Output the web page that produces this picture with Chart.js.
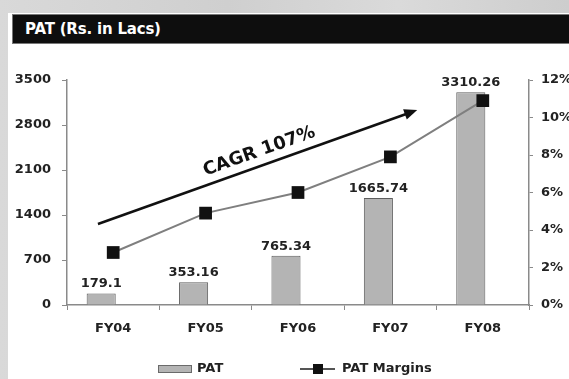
<!DOCTYPE html>
<html>
<head>
<meta charset="utf-8">
<script src="https://cdn.jsdelivr.net/npm/chart.js@4/dist/chart.umd.min.js"></script>
<style>
  html, body { margin: 0; padding: 0; }
  body {
    width: 569px; height: 379px; overflow: hidden; position: relative;
    background: linear-gradient(90deg, #d9d9d9 0%, #cfcfcf 40%, #dadada 70%, #cdcdcd 100%);
  }
  #panel {
    position: absolute; left: 8px; top: 13px; right: 0; bottom: 0;
    background: #ffffff;
  }
  #titlebar {
    position: absolute; left: 12px; top: 14px; right: 0; height: 28px;
    background: #0e0e0e; border-top: 1px solid #777; border-bottom: 1px solid #777;
    border-left: 1px solid #777;
    box-sizing: content-box;
  }
  #titlebar span {
    position: absolute; left: 12px; top: 5px;
    font: bold 15px "DejaVu Sans", sans-serif; color: #ffffff;
    letter-spacing: -0.2px;
  }
  #chart { position: absolute; left: 0; top: 0; }
</style>
</head>
<body>
<div id="panel"></div>
<div id="titlebar"><span>PAT (Rs. in Lacs)</span></div>
<canvas id="chart" width="569" height="379"></canvas>
<script>
// Financial years on the category axis
const years = ['FY04', 'FY05', 'FY06', 'FY07', 'FY08'];
// Profit after tax, Rs. in lacs
const patValues = [179.1, 353.16, 765.34, 1665.74, 3310.26];
// PAT margin, percent
const marginValues = [2.8, 4.9, 6.0, 7.9, 10.9];
// Axis tick steps
const patTicks = [0, 700, 1400, 2100, 2800, 3500];
const marginTicks = [0, 2, 4, 6, 8, 10, 12];
// Growth annotation
const cagrText = 'CAGR 107%';

const FONT = '"DejaVu Sans", sans-serif';
const TEXT = '#222222';
const AXIS = '#8a8a8a';

// Value labels above each PAT bar
const barLabels = {
  id: 'barLabels',
  afterDatasetsDraw(chart) {
    const ctx = chart.ctx;
    const meta = chart.getDatasetMeta(0);
    ctx.save();
    ctx.font = 'bold 13px ' + FONT;
    ctx.fillStyle = TEXT;
    ctx.textAlign = 'center';
    ctx.textBaseline = 'bottom';
    meta.data.forEach((bar, i) => {
      ctx.fillText(String(patValues[i]), bar.x, bar.y - 3);
    });
    ctx.restore();
  }
};

// Growth arrow with its caption, anchored in axis units
const cagrArrow = {
  id: 'cagrArrow',
  afterDraw(chart) {
    const { ctx, scales } = chart;
    const x0 = scales.x.getPixelForValue(-0.165), y0 = scales.y.getPixelForValue(1260);
    const x1 = scales.x.getPixelForValue(3.29), y1 = scales.y.getPixelForValue(3033);
    const ang = Math.atan2(y1 - y0, x1 - x0);
    ctx.save();
    ctx.strokeStyle = '#111';
    ctx.fillStyle = '#111';
    ctx.lineWidth = 2.5;
    ctx.beginPath();
    ctx.moveTo(x0, y0);
    ctx.lineTo(x1 - 8 * Math.cos(ang), y1 - 8 * Math.sin(ang));
    ctx.stroke();
    // head
    ctx.translate(x1, y1);
    ctx.rotate(ang);
    ctx.beginPath();
    ctx.moveTo(0, 0);
    ctx.lineTo(-13, -5.5);
    ctx.lineTo(-13, 5.5);
    ctx.closePath();
    ctx.fill();
    ctx.restore();

    // caption
    const t = 0.52;
    const cx = x0 + (x1 - x0) * t, cy = y0 + (y1 - y0) * t;
    ctx.save();
    ctx.translate(cx, cy);
    ctx.rotate(ang);
    ctx.font = 'bold 18px ' + FONT;
    ctx.fillStyle = '#111';
    ctx.textAlign = 'center';
    ctx.textBaseline = 'middle';
    ctx.fillText(cagrText, 0, -14);
    ctx.restore();
  }
};

// Legend row under the axis
const bottomLegend = {
  id: 'bottomLegend',
  afterDraw(chart) {
    const ctx = chart.ctx;
    const y = 369;
    ctx.save();
    ctx.font = 'bold 13px ' + FONT;
    ctx.textBaseline = 'middle';
    ctx.textAlign = 'left';
    // bar swatch
    ctx.fillStyle = '#b4b4b4';
    ctx.fillRect(158, y - 4, 34, 8);
    ctx.strokeStyle = '#6a6a6a';
    ctx.lineWidth = 1;
    ctx.strokeRect(158.5, y - 3.5, 33, 7);
    ctx.fillStyle = TEXT;
    ctx.fillText(chart.data.datasets[0].label, 197, y);
    // line swatch
    ctx.strokeStyle = '#555';
    ctx.lineWidth = 2;
    ctx.beginPath();
    ctx.moveTo(300, y);
    ctx.lineTo(335, y);
    ctx.stroke();
    ctx.fillStyle = '#111';
    ctx.fillRect(313, y - 5, 10, 10);
    ctx.fillStyle = TEXT;
    ctx.fillText(chart.data.datasets[2].label, 342, y);
    ctx.restore();
  }
};

new Chart(document.getElementById('chart'), {
  data: {
    labels: years,
    datasets: [
      {
        type: 'bar',
        label: 'PAT',
        data: patValues,
        yAxisID: 'y',
        backgroundColor: '#b4b4b4',
        borderColor: '#5e5e5e',
        borderWidth: 1,
        categoryPercentage: 0.52,
        barPercentage: 1.21,
        order: 2
      },
      {
        // empty neighbour slot that keeps the bars left of the tick centre
        type: 'bar',
        label: '',
        data: years.map(() => null),
        yAxisID: 'y',
        categoryPercentage: 0.52,
        barPercentage: 1.21,
        order: 3
      },
      {
        type: 'line',
        label: 'PAT Margins',
        data: marginValues,
        yAxisID: 'y1',
        borderColor: '#7f7f7f',
        borderWidth: 2,
        pointStyle: 'rect',
        pointRadius: 9,
        pointBackgroundColor: '#111',
        pointBorderColor: '#111',
        pointBorderWidth: 0,
        tension: 0,
        order: 1
      }
    ]
  },
  options: {
    responsive: false,
    devicePixelRatio: 1,
    animation: false,
    layout: { padding: { top: 80, left: 0, right: 0, bottom: 0 } },
    plugins: {
      legend: { display: false },
      tooltip: { enabled: false },
      title: { display: false }
    },
    scales: {
      x: {
        type: 'category',
        offset: true,
        grid: { display: true, drawOnChartArea: false, offset: true, tickLength: 5, color: AXIS, lineWidth: 1 },
        border: { display: true, color: AXIS, width: 1.5 },
        ticks: { color: TEXT, font: { family: FONT, size: 13, weight: 'bold' }, padding: 11, maxRotation: 0 },
        afterFit(scale) { scale.height = 74; }
      },
      y: {
        type: 'linear',
        position: 'left',
        min: patTicks[0],
        max: patTicks[patTicks.length - 1],
        afterBuildTicks(scale) { scale.ticks = patTicks.map(v => ({ value: v })); },
        grid: { drawOnChartArea: false, tickLength: 5, color: AXIS, lineWidth: 1 },
        border: { display: true, color: AXIS, width: 1.5 },
        ticks: {
          color: TEXT, font: { family: FONT, size: 13, weight: 'bold' }, padding: 11,
          callback: v => String(v)
        },
        afterFit(scale) { scale.width = 67; }
      },
      y1: {
        type: 'linear',
        position: 'right',
        min: marginTicks[0],
        max: marginTicks[marginTicks.length - 1],
        afterBuildTicks(scale) { scale.ticks = marginTicks.map(v => ({ value: v })); },
        grid: { drawOnChartArea: false, tickLength: 4, color: AXIS, lineWidth: 1 },
        border: { display: true, color: AXIS, width: 1.5 },
        ticks: {
          color: TEXT, font: { family: FONT, size: 13, weight: 'bold' }, padding: 8,
          callback: v => v + '%'
        },
        afterFit(scale) { scale.width = 40; }
      }
    }
  },
  plugins: [barLabels, cagrArrow, bottomLegend]
});
</script>
</body>
</html>
